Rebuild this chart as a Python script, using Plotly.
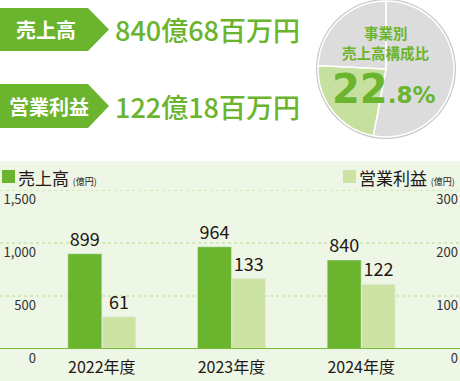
import plotly.graph_objects as go

W, H = 460, 381

# ---- data ----
years = ["2022年度", "2023年度", "2024年度"]
sales = [899, 964, 840]          # 売上高 (億円)
profit = [61, 133, 122]          # 営業利益 (億円)
sales_ticks = [0, 500, 1000, 1500]
profit_ticks = [0, 100, 200, 300]
headline_labels = ["売上高", "営業利益"]
headline_values = ["840億68百万円", "122億18百万円"]
pie_labels = ["その他A", "当事業", "その他B"]
pie_values = [53.0, 22.8, 24.2]
pie_title = ["事業別", "売上高構成比"]

DARK = "#6ab42e"
LIGHT = "#cde3a4"
PANEL = "#eef6e6"
TXT = "#231815"
FONT = "Noto Sans CJK JP"


def px(x):
    return x / W


def py(y):
    return 1 - y / H


fig = go.Figure()

fig.add_trace(go.Bar(
    x=years, y=sales, name="売上高", marker_color=DARK,
    width=0.262, offset=-0.262, yaxis="y",
    text=[str(v) for v in sales], textposition="outside",
    textfont=dict(size=18, color=TXT, family=FONT), cliponaxis=False,
    hoverinfo="skip",
))
fig.add_trace(go.Bar(
    x=years, y=profit, name="営業利益", marker_color=LIGHT,
    width=0.258, offset=0.004, yaxis="y2",
    text=[str(v) for v in profit], textposition="outside",
    textfont=dict(size=18, color=TXT, family=FONT), cliponaxis=False,
    hoverinfo="skip",
))

fig.add_trace(go.Pie(
    labels=pie_labels, values=pie_values, sort=False, direction="clockwise",
    rotation=0, marker=dict(colors=["#dcdcdc", "#c6e09f", "#dcdcdc"],
                            line=dict(color="white", width=1.5)),
    textinfo="none", hoverinfo="skip", showlegend=False,
    domain=dict(x=[px(318), px(454)], y=[py(137), py(1)]),
))

shapes = []
# panel background
shapes.append(dict(type="rect", xref="paper", yref="paper", x0=0, x1=1,
                   y0=0, y1=py(161), fillcolor=PANEL, line_width=0, layer="below"))
# gridlines (full width, dotted)
for t in sales_ticks[1:]:
    shapes.append(dict(type="line", xref="paper", yref="y", x0=0, x1=1, y0=t, y1=t,
                       line=dict(color="#b7da92", width=1, dash="dot"), layer="below"))
# zero line
shapes.append(dict(type="line", xref="paper", yref="y", x0=0, x1=1, y0=0, y1=0,
                   line=dict(color="#74b83c", width=2), layer="above"))
# pie shadow
shapes.append(dict(type="circle", xref="paper", yref="paper",
                   x0=px(316), x1=px(456), y0=py(139), y1=py(-1),
                   fillcolor="#c9c9c9", line_width=0, layer="below"))
# headline arrows
for top in (8, 84):
    bot = top + 43 if top == 8 else top + 44
    mid = (top + bot) / 2
    pts = [(0, top), (88, top), (109, mid), (88, bot), (0, bot)]
    path = "M " + " L ".join(f"{px(a):.5f},{py(b):.5f}" for a, b in pts) + " Z"
    shapes.append(dict(type="path", xref="paper", yref="paper", path=path,
                       fillcolor=DARK, line_width=0))
# legend squares
shapes.append(dict(type="rect", xref="paper", yref="paper", x0=px(2), x1=px(15),
                   y0=py(183), y1=py(170), fillcolor=DARK, line_width=0))
shapes.append(dict(type="rect", xref="paper", yref="paper", x0=px(343), x1=px(356),
                   y0=py(183), y1=py(170), fillcolor=LIGHT, line_width=0))

ann = []
# headline labels and values
for lab, val, cy, cx in zip(headline_labels, headline_values, (29, 106), (46, 49)):
    ann.append(dict(x=px(cx), y=py(cy), xref="paper", yref="paper", text=f"<b>{lab}</b>",
                    showarrow=False, xanchor="center", yanchor="middle",
                    font=dict(size=20, color="white", family=FONT)))
    ann.append(dict(x=px(113), y=py(cy), xref="paper", yref="paper", text=val,
                    showarrow=False, xanchor="left", yanchor="middle",
                    font=dict(size=27, color=DARK, family=FONT, weight=500)))
# pie texts
for t, cy in zip(pie_title, (33, 52)):
    ann.append(dict(x=px(386), y=py(cy), xref="paper", yref="paper",
                    text=f"<b>{t}</b>",
                    showarrow=False, xanchor="center", yanchor="middle",
                    font=dict(size=14.5, color=DARK, family=FONT)))
share = f"{pie_values[1]:.1f}"
big, small = share.split(".")
ann.append(dict(x=px(383.5), y=py(89), xref="paper", yref="paper",
                text=f"<b><span style='font-size:40px'>{big}</span>"
                     f"<span style='font-size:23px'>.{small}%</span></b>",
                showarrow=False, xanchor="center", yanchor="middle",
                font=dict(size=23, color=DARK, family="DejaVu Sans")))
# legend texts
ann.append(dict(x=px(16), y=py(177), xref="paper", yref="paper",
                text="売上高 <span style='font-size:9px'>(億円)</span>",
                showarrow=False, xanchor="left", yanchor="middle",
                font=dict(size=17, color=TXT, family=FONT)))
ann.append(dict(x=px(357), y=py(177), xref="paper", yref="paper",
                text="営業利益 <span style='font-size:9px'>(億円)</span>",
                showarrow=False, xanchor="left", yanchor="middle",
                font=dict(size=17, color=TXT, family=FONT)))

fig.update_layout(
    width=W, height=H, margin=dict(l=0, r=0, t=0, b=0, autoexpand=False),
    paper_bgcolor="white", plot_bgcolor="rgba(0,0,0,0)",
    showlegend=False, font=dict(family=FONT, color=TXT),
    xaxis=dict(domain=[px(37), px(426)], showgrid=False, zeroline=False, showline=False,
               automargin=False, ticklabelstandoff=7,
               ticks="", tickfont=dict(size=16, color=TXT, family=FONT), fixedrange=True),
    yaxis=dict(domain=[py(349), py(190)], range=[0, 1500], tickvals=sales_ticks,
               automargin=False,
               ticktext=[f"{v:,}" for v in sales_ticks], showgrid=False, zeroline=False,
               ticklabelposition="outside bottom", ticks="",
               tickfont=dict(size=13, color="#333333", family=FONT), fixedrange=True),
    yaxis2=dict(overlaying="y", anchor="free", position=458 / W, side="left",
                automargin=False,
                range=[0, 300], tickvals=profit_ticks,
                ticktext=[str(v) for v in profit_ticks], showgrid=False, zeroline=False,
                ticklabelposition="outside bottom", ticks="",
                tickfont=dict(size=13, color="#333333", family=FONT), fixedrange=True),
    shapes=shapes, annotations=ann,
)

fig.write_html("out.html", config={"displayModeBar": False, "staticPlot": True},
               post_script="document.body.style.margin='0';")
